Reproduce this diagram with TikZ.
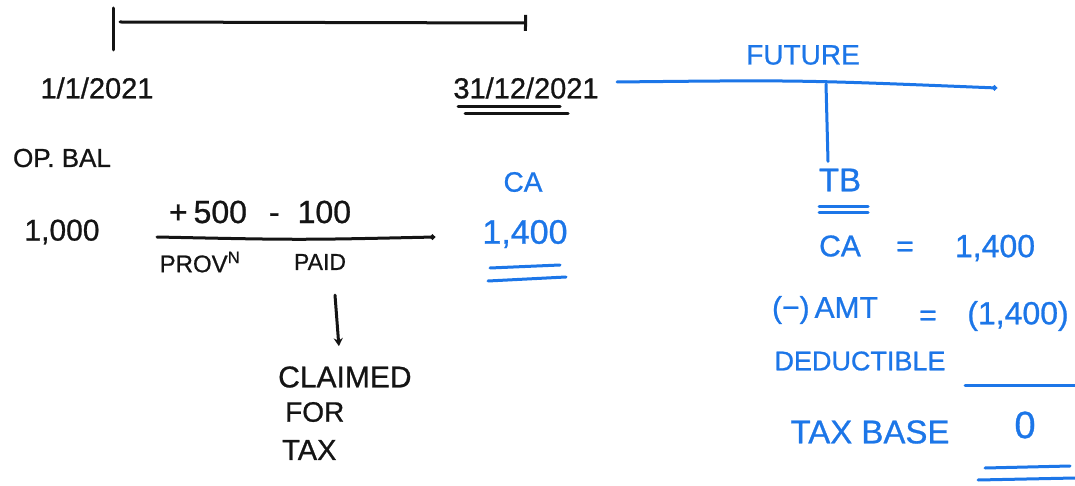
\documentclass[tikz,border=0pt]{standalone}
\usepackage{fontspec}
\setmainfont{Liberation Sans}
\newfontfamily\hand{Liberation Sans}[FakeBold=0.8,Ligatures=TeX]
\usetikzlibrary{arrows.meta,calc}
\definecolor{ink}{RGB}{20,20,20}
\definecolor{pen}{RGB}{28,118,232}
\tikzset{
  hw/.style={text=ink, font=\hand\fontsize{#1}{#1}\selectfont, inner sep=0pt},
  hw/.default=30,
  hb/.style={text=pen, font=\hand\fontsize{#1}{#1}\selectfont, inner sep=0pt},
  hb/.default=30,
  inkline/.style={draw=ink, line width=3pt, line cap=round},
  penline/.style={draw=pen, line width=3pt, line cap=round},
}
\begin{document}
\begin{tikzpicture}[x=1pt,y=-1pt]
\useasboundingbox[fill=white] (0,0) rectangle (1075,486);

% ---- current year timeline (black) ----
\coordinate (ttop) at (113,8);
\coordinate (tbot) at (113,50);
\coordinate (ts) at (120,22);
\coordinate (te) at (527,23);
\draw[inkline] (ttop) -- (tbot);
\draw[inkline,-{Bar[width=16pt,line width=3pt]}] (ts) -- (te);

\node[hw=29] (d1) at (97,88) {1/1/2021};
\node[hw=29] (d2) at (526,88) {31/12/2021};
\draw[inkline] ($(d2.center)+(-68,19)$) -- ($(d2.center)+(34,19)$);
\draw[inkline] ($(d2.center)+(-61,26)$) -- ($(d2.center)+(42,26)$);

% ---- movement in the provision ----
\node[hw=26] (ob) at (62,158) {OP. BAL};
\node[hw=30] (v0) at (62,232) {1,000};
\node[hw=32] (mv) at (260,212) {+\hspace{6pt}500\hspace{22pt}-\hspace{18pt}100};
\coordinate (ms) at (157,237);
\coordinate (me) at (435,237);
\draw[inkline,-{Circle[length=5pt]}] (ms) .. controls (300,240) .. (me);
\node[hw=24] (pr) at (200,262) {PROV\textsuperscript{N}};
\node[hw=23] (pd) at (320,262) {PAID};

\node[hw=30,anchor=west] (cl) at (278,377) {CLAIMED};
\node[hw=28,anchor=west] (fo) at (285,412) {FOR};
\node[hw=29,anchor=west] (ta) at (282,450) {TAX};
\draw[inkline,-{Stealth[length=8pt,width=9pt]}] ($(pd.south)+(15,25)$) -- ($(cl.north)+(-6,-20)$);

% ---- carrying amount at year end (blue) ----
\node[hb=28] (ca1) at (523,182) {CA};
\node[hb=34] (v1) at (525,234) {1,400};
\draw[penline] ($(v1.center)+(-35,34)$) -- ($(v1.center)+(35,31)$);
\draw[penline] ($(v1.center)+(-37,47)$) -- ($(v1.center)+(41,43)$);

% ---- future timeline (blue) ----
\node[hb=28] (fu) at (803,55) {FUTURE};
\coordinate (fl) at (617,82);
\coordinate (fr) at (997,88);
\coordinate (fm) at (826,84);
\draw[penline,-{Circle[length=5pt]}] (fl) .. controls (800,80) .. (fr);

\node[hb=33] (tb) at (840,180) {TB};
\draw[penline] (fm) -- ($(tb.north)+(-12,-7)$);
\draw[penline] ($(tb.center)+(-21,27)$) -- ($(tb.center)+(28,27)$);
\draw[penline] ($(tb.center)+(-21,33)$) -- ($(tb.center)+(28,33)$);

% ---- tax base computation (blue) ----
\node[hb=30] (ca2) at (840,246) {CA};
\node[hb=30] (eq1) at (905,249) {=};
\node[hb=32] (v2) at (995,248) {1,400};

\node[hb=30] (am) at (825,310) {(−)\,AMT};
\node[hb=30] (eq2) at (928,318) {=};
\node[hb=32] (v3) at (1018,316) {(1,400)};
\node[hb=27] (de) at (860,361) {DEDUCTIBLE};
\draw[penline] ($(v3.center)+(-53,69)$) -- ($(v3.center)+(57,69)$);

\node[hb=33] (tx) at (870,432) {TAX BASE};
\node[hb=38] (z) at (1025,425) {0};
\draw[penline] ($(z.center)+(-40,43)$) -- ($(z.center)+(45,41)$);
\draw[penline] ($(z.center)+(-47,55)$) -- ($(z.center)+(50,53)$);
\end{tikzpicture}
\end{document}
